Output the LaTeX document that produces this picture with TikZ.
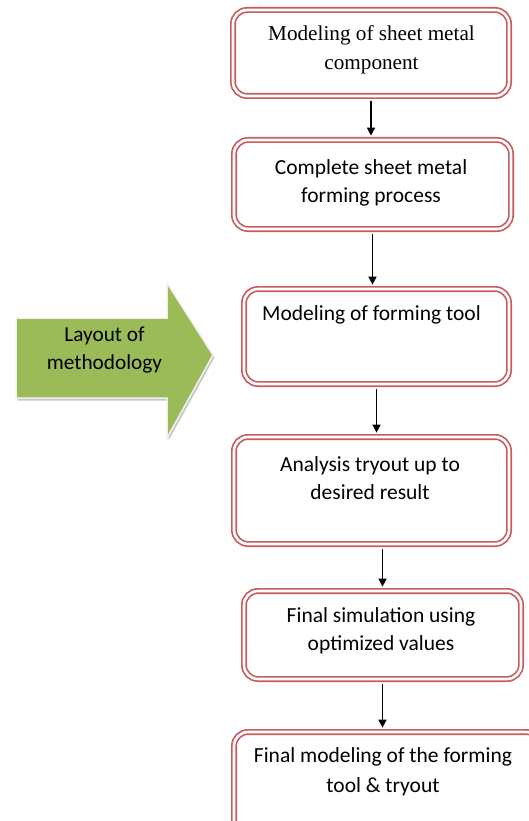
\documentclass[tikz,border=0pt]{standalone}
\usepackage{fontspec}
\setmainfont{Carlito}
\newfontfamily\serifstage{Liberation Serif}
\usetikzlibrary{arrows.meta}

\definecolor{stagered}{RGB}{200,92,90}
\definecolor{layoutgreen}{RGB}{155,187,89}

\tikzset{
	stage/.style={draw=stagered, double=white, double distance=2.6pt, line width=1.7pt, rounded corners=14pt, fill=white, inner sep=0pt},
	stagetext/.style={align=center, inner sep=0pt, font=\fontsize{21.5}{28}\selectfont},
	flow/.style={line width=1.4pt, -{Triangle[length=8pt, width=8pt]}, shorten <=4pt, shorten >=3.5pt}
}

\begin{document}
\begin{tikzpicture}[x=1pt, y=-1pt]
		\useasboundingbox (0, 0) rectangle (529, 821);
		\clip (0, 0) rectangle (529, 821);
		% the big green arrow on the left
		\fill [gray!45] (17.5, 320.5) -- (168.5, 320.5) -- (168.5, 285.5) -- (214.5, 357.5) -- (168.5, 440.5) -- (168.5, 400.5) -- (17.5, 400.5) -- cycle;
		\filldraw [layoutgreen, draw=gray!12, line width=1.5pt] (16, 318) -- (167, 318) -- (167, 283) -- (213, 355) -- (167, 438) -- (167, 398) -- (16, 398) -- cycle;
		\node [stagetext, font=\fontsize{21.3}{28}\selectfont] (layout) at (104.5, 350) {Layout of\\methodology};
		% stages
		\node [stage, minimum width=276pt, minimum height=86pt] (s1) at (371, 53) {};
		\node [stagetext, font=\serifstage\fontsize{21.2}{29}\selectfont] (t1) at (371.5, 50) {Modeling of sheet metal\\component};
		\node [stage, minimum width=277pt, minimum height=89pt] (s2) at (372.5, 184.5) {};
		\node [stagetext] (t2) at (371, 183) {Complete sheet metal\\forming process};
		\node [stage, minimum width=265pt, minimum height=95pt] (s3) at (376.5, 336.5) {};
		\node [stagetext, anchor=base west] (t3) at (262, 320) {Modeling of forming tool};
		\node [stage, minimum width=275pt, minimum height=107pt] (s4) at (371.5, 490.5) {};
		\node [stagetext] (t4) at (370, 478.5) {Analysis tryout up to\\desired result};
		\node [stage, minimum width=277pt, minimum height=88pt] (s5) at (382.5, 635) {};
		\node [stagetext, font=\fontsize{21.5}{28}\selectfont] (t5) at (381, 630.5) {Final simulation using\\optimized values};
		\node [stage, minimum width=306pt, minimum height=103pt] (s6) at (387, 783.5) {};
		\node [stagetext, font=\fontsize{21.5}{30}\selectfont] (t6) at (383, 772) {Final modeling of the forming\\tool \& tryout};
		% connectors
		\draw [flow] (s1.south) -- (s1.south |- s2.north);
		\draw [flow] (s2.south) -- (s2.south |- s3.north);
		\draw [flow] (s3.south) -- (s3.south |- s4.north);
		\draw [flow] (s5.north |- s4.south) -- (s5.north);
		\draw [flow] (s5.south) -- (s5.south |- s6.north);
	\end{tikzpicture}
\end{document}
